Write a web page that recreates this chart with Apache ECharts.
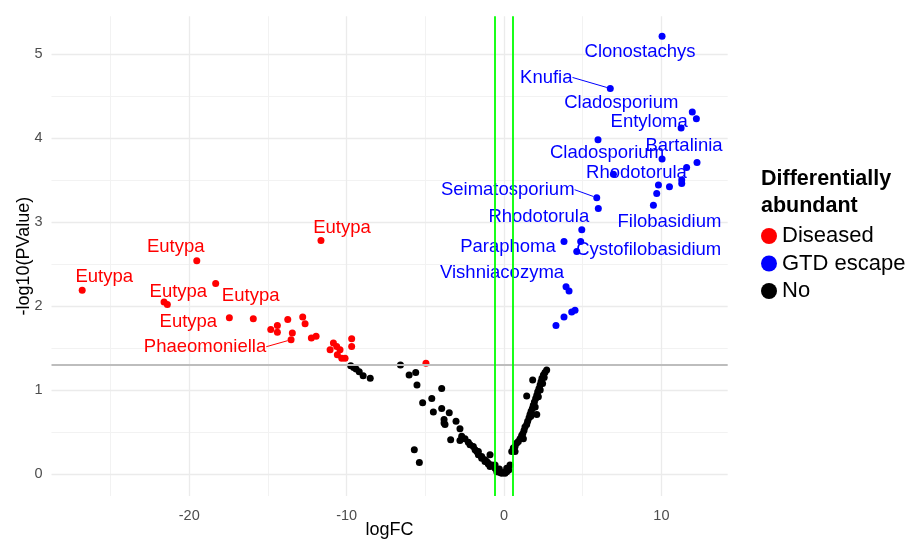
<!DOCTYPE html>
<html>
<head>
<meta charset="utf-8">
<script src="https://cdn.jsdelivr.net/npm/echarts@6/dist/echarts.min.js"></script>
<style>
  html, body { margin: 0; padding: 0; background: #ffffff; }
  #chart { width: 917px; height: 541px; }
</style>
</head>
<body>
<div id="chart"></div>
<script>
// Volcano plot: logFC vs -log10(PValue), coloured by differential abundance.

// Tick values
const xMajorTicks = [-20, -10, 0, 10];
const xMinorTicks = [-25, -15, -5, 5];
const yMajorTicks = [0, 1, 2, 3, 4, 5];
const yMinorTicks = [0.5, 1.5, 2.5, 3.5, 4.5];

// Thresholds
const pCutoff = 0.05;
const fcCutoff = Math.log2(1.5);

// Diseased (enriched in diseased vines) [logFC, -log10(PValue)]
const diseased = [
  [-26.8, 2.19], [-19.52, 2.54], [-11.63, 2.78], [-18.32, 2.27], [-21.39, 2.02],
  [-21.6, 2.05], [-17.45, 1.86], [-15.93, 1.85], [-14.82, 1.72], [-14.4, 1.77],
  [-14.4, 1.69], [-13.74, 1.84], [-13.45, 1.68], [-13.53, 1.60], [-12.79, 1.87],
  [-12.64, 1.79], [-12.24, 1.62], [-11.94, 1.64], [-10.84, 1.56], [-9.68, 1.61],
  [-9.68, 1.52], [-11.05, 1.48], [-10.63, 1.52], [-10.42, 1.48], [-10.59, 1.42],
  [-10.31, 1.38], [-10.1, 1.38], [-4.96, 1.32]
];

// GTD escape
const gtdEscape = [
  [10.04, 5.21], [6.75, 4.59], [11.96, 4.31], [12.22, 4.23], [11.25, 4.12],
  [5.97, 3.98], [10.04, 3.75], [12.26, 3.71], [11.6, 3.65], [6.95, 3.57],
  [11.29, 3.50], [11.29, 3.46], [9.81, 3.44], [10.51, 3.42], [9.70, 3.34],
  [9.49, 3.20], [5.89, 3.29], [5.99, 3.16], [4.94, 2.91], [3.81, 2.77],
  [4.87, 2.77], [4.62, 2.65], [3.94, 2.23], [4.13, 2.18], [4.51, 1.95],
  [4.30, 1.93], [3.81, 1.87], [3.30, 1.77]
];

// Not differentially abundant
const notDifferential = [
  [-9.74, 1.29], [-9.55, 1.27], [-9.4, 1.25], [-9.2, 1.22], [-8.95, 1.17], [-8.5, 1.14],
  [-6.58, 1.30], [-6.03, 1.18], [-5.61, 1.21], [-5.53, 1.06], [-5.17, 0.85], [-4.59, 0.90],
  [-4.49, 0.74], [-3.96, 1.02], [-3.96, 0.78], [-3.81, 0.65], [-3.81, 0.61], [-3.75, 0.59],
  [-3.48, 0.73], [-3.05, 0.63], [-2.80, 0.54], [-3.39, 0.41], [-2.80, 0.40], [-2.69, 0.45],
  [-2.48, 0.42], [-2.27, 0.38], [-2.16, 0.35], [-1.95, 0.33], [-1.84, 0.29], [-1.73, 0.27],
  [-1.63, 0.23], [-1.42, 0.19], [-1.21, 0.15], [-1.0, 0.12], [-0.89, 0.09], [-0.89, 0.23],
  [-1.1, 0.15], [-0.57, 0.11], [-5.70, 0.29], [-5.38, 0.14], [-1.63, 0.27], [-1.42, 0.21],
  [-1.21, 0.17], [-1.0, 0.13], [-0.78, 0.11], [-0.57, 0.07], [-0.46, 0.03], [-0.36, 0.03],
  [-0.25, 0.02], [-0.15, 0.01], [-0.04, 0.02], [0.06, 0.01], [0.17, 0.03], [0.30, 0.05],
  [0.38, 0.11], [0.17, 0.07], [-0.3, 0.06],
  [0.49, 0.27], [0.59, 0.31], [0.70, 0.33], [0.81, 0.37], [0.91, 0.39], [1.02, 0.42],
  [1.12, 0.46], [1.19, 0.48], [1.27, 0.52], [1.33, 0.56], [1.44, 0.59], [1.50, 0.63],
  [1.59, 0.67], [1.65, 0.71], [1.72, 0.75], [1.80, 0.78], [1.86, 0.82], [1.93, 0.86],
  [2.01, 0.90], [2.08, 0.94], [2.14, 0.98], [2.22, 1.02], [2.29, 1.06], [2.35, 1.10],
  [2.41, 1.14], [2.50, 1.18], [2.60, 1.21], [2.71, 1.24],
  [1.82, 1.12], [1.44, 0.93], [2.08, 0.71], [1.23, 0.42], [0.70, 0.27], [2.18, 0.92],
  [2.45, 1.08], [2.55, 1.15], [1.98, 0.80], [1.70, 0.69], [2.30, 1.00]
];

// Genus names shown next to selected points: [point index, genus]
const diseasedGenera = [
  [0, 'Eutypa'], [1, 'Eutypa'], [2, 'Eutypa'], [4, 'Eutypa'],
  [3, 'Eutypa'], [6, 'Eutypa'], [13, 'Phaeomoniella']
];
const escapeGenera = [
  [0, 'Clonostachys'], [1, 'Knufia'], [2, 'Cladosporium'], [4, 'Entyloma'],
  [7, 'Bartalinia'], [5, 'Cladosporium'], [9, 'Rhodotorula'], [16, 'Seimatosporium'],
  [18, 'Rhodotorula'], [15, 'Filobasidium'], [19, 'Paraphoma'], [21, 'Cystofilobasidium'],
  [22, 'Vishniacozyma']
];

// Repelled label placement (pixel nudges from each point), leader flag
const diseasedLabelNudge = {
  0: [22, -13], 1: [-21, -14], 2: [21, -13], 4: [11, -13],
  3: [35, 12], 6: [-41, 4], 13: [-86, 7, true]
};
const escapeLabelNudge = {
  0: [-22, 16], 1: [-64, -11, true], 2: [-71, -9], 4: [-32, -6],
  7: [-13, -17], 5: [9, 13], 9: [23, -1], 16: [-89, -8, true],
  18: [-43, -13], 15: [16, 17], 19: [-56, 6], 21: [72, -2], 22: [-64, -14]
};

const FONT = "'Liberation Sans', Arial, Helvetica, sans-serif";
const RED = '#ff0000', BLUE = '#0000ff', BLACK = '#000000';

function buildData(points, genera, color) {
  const names = {};
  genera.forEach(([i, n]) => { names[i] = n; });
  return points.map((p, i) => {
    if (names[i] === undefined) return { value: p };
    return {
      value: p,
      label: { show: true, formatter: names[i], color: color },
      labelLine: { show: false }
    };
  });
}

function withLeaders(data, nudges) {
  Object.keys(nudges).forEach(k => {
    if (nudges[k][2] && data[k].labelLine) data[k].labelLine.show = true;
  });
  return data;
}

function nudgeLayout(nudges) {
  return function (params) {
    const n = nudges[params.dataIndex];
    if (!n) return {};
    return { dx: n[0], dy: n[1] };
  };
}

function scatterSeries(name, points, genera, nudges, color) {
  return {
    name: name,
    type: 'scatter',
    symbol: 'circle',
    symbolSize: 7,
    z: 3,
    itemStyle: { color: color, opacity: 1 },
    label: {
      show: false,
      position: 'inside',
      align: 'center',
      verticalAlign: 'middle',
      fontFamily: FONT,
      fontSize: 18.5,
      color: color,
      textBorderWidth: 0
    },
    labelLine: { show: false, lineStyle: { color: color, width: 1 } },
    labelLayout: nudgeLayout(nudges),
    emphasis: { disabled: true },
    data: withLeaders(buildData(points, genera, color), nudges)
  };
}

const gridMajor = { color: '#ebebeb', width: 1.3, type: 'solid' };
const gridMinor = { color: '#f2f2f2', width: 1.1, type: 'solid' };

const gridLines = []
  .concat(xMinorTicks.map(v => ({ xAxis: v, lineStyle: gridMinor })))
  .concat(yMinorTicks.map(v => ({ yAxis: v, lineStyle: gridMinor })))
  .concat(xMajorTicks.map(v => ({ xAxis: v, lineStyle: gridMajor })))
  .concat(yMajorTicks.map(v => ({ yAxis: v, lineStyle: gridMajor })));

const refLines = [
  { yAxis: -Math.log10(pCutoff), lineStyle: { color: '#bdbdbd', width: 1.8, type: 'solid' } },
  { xAxis: -fcCutoff, lineStyle: { color: '#00ff00', width: 1.8, type: 'solid' } },
  { xAxis: fcCutoff, lineStyle: { color: '#00ff00', width: 1.8, type: 'solid' } }
];

const chart = echarts.init(document.getElementById('chart'), null, { renderer: 'canvas' });

chart.setOption({
  animation: false,
  backgroundColor: '#ffffff',
  title: {
    text: 'Differentially\nabundant',
    left: 761,
    top: 166,
    padding: 0,
    textStyle: { fontFamily: FONT, fontSize: 21.5, fontWeight: 'bold', lineHeight: 27, color: '#000' }
  },
  legend: {
    data: ['Diseased', 'GTD escape', 'No'],
    orient: 'vertical',
    left: 761,
    top: 225,
    padding: 0,
    itemGap: 5.5,
    itemWidth: 16,
    itemHeight: 16,
    icon: 'circle',
    selectedMode: false,
    textStyle: { fontFamily: FONT, fontSize: 22, lineHeight: 22, color: '#000' }
  },
  grid: { left: 51.5, right: 189.3, top: 16.2, bottom: 45, outerBoundsMode: 'none', containLabel: false },
  xAxis: {
    type: 'value',
    min: -28.75,
    max: 14.21,
    splitLine: { show: false },
    axisLine: { show: false },
    axisTick: { show: false },
    axisLabel: {
      customValues: xMajorTicks,
      color: '#4d4d4d',
      fontFamily: FONT,
      fontSize: 14.5,
      margin: 12
    },
    name: 'logFC',
    nameLocation: 'middle',
    nameGap: 25,
    nameMoveOverlap: false,
    nameTextStyle: { fontFamily: FONT, fontSize: 18, color: '#000' }
  },
  yAxis: {
    type: 'value',
    min: -0.26,
    max: 5.45,
    splitLine: { show: false },
    axisLine: { show: false },
    axisTick: { show: false },
    axisLabel: {
      customValues: yMajorTicks,
      color: '#4d4d4d',
      fontFamily: FONT,
      fontSize: 14.5,
      margin: 9
    },
    name: '-log10(PValue)',
    nameLocation: 'middle',
    nameGap: 18,
    nameMoveOverlap: false,
    nameTextStyle: { fontFamily: FONT, fontSize: 18, color: '#000' }
  },
  series: [
    {
      type: 'scatter',
      data: [],
      z: 0,
      silent: true,
      markLine: {
        z: 0,
        silent: true,
        symbol: ['none', 'none'],
        label: { show: false },
        emphasis: { disabled: true },
        data: gridLines
      }
    },
    scatterSeries('No', notDifferential, [], {}, BLACK),
    scatterSeries('GTD escape', gtdEscape, escapeGenera, escapeLabelNudge, BLUE),
    scatterSeries('Diseased', diseased, diseasedGenera, diseasedLabelNudge, RED),
    {
      type: 'scatter',
      data: [],
      z: 5,
      silent: true,
      markLine: {
        z: 5,
        silent: true,
        symbol: ['none', 'none'],
        label: { show: false },
        emphasis: { disabled: true },
        data: refLines
      }
    }
  ]
});
</script>
</body>
</html>
